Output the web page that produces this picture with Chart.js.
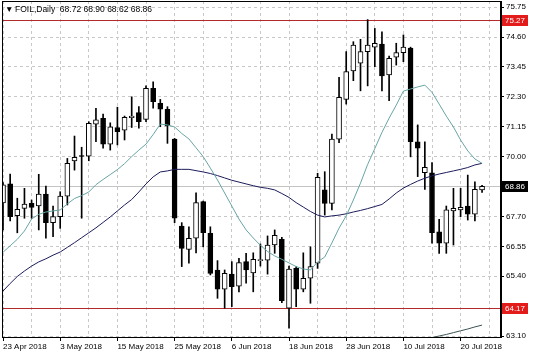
<!DOCTYPE html>
<html>
<head>
<meta charset="utf-8">
<script src="https://cdn.jsdelivr.net/npm/chart.js"></script>
<style>
  body { margin: 0; background: #fff; }
  canvas { display: block; }
</style>
</head>
<body>
<canvas id="graficoFoil" width="536" height="357"></canvas>
<script>
const dates = [
  "23 Apr 2018", "24 Apr 2018", "25 Apr 2018", "26 Apr 2018", "27 Apr 2018", "30 Apr 2018",
  "1 May 2018", "2 May 2018", "3 May 2018", "4 May 2018", "7 May 2018", "8 May 2018",
  "9 May 2018", "10 May 2018", "11 May 2018", "14 May 2018", "15 May 2018", "16 May 2018",
  "17 May 2018", "18 May 2018", "21 May 2018", "22 May 2018", "23 May 2018", "24 May 2018",
  "25 May 2018", "28 May 2018", "29 May 2018", "30 May 2018", "31 May 2018", "1 Jun 2018",
  "4 Jun 2018", "5 Jun 2018", "6 Jun 2018", "7 Jun 2018", "8 Jun 2018", "11 Jun 2018",
  "12 Jun 2018", "13 Jun 2018", "14 Jun 2018", "15 Jun 2018", "18 Jun 2018", "19 Jun 2018",
  "20 Jun 2018", "21 Jun 2018", "22 Jun 2018", "25 Jun 2018", "26 Jun 2018", "27 Jun 2018",
  "28 Jun 2018", "29 Jun 2018", "2 Jul 2018", "3 Jul 2018", "4 Jul 2018", "5 Jul 2018",
  "6 Jul 2018", "9 Jul 2018", "10 Jul 2018", "11 Jul 2018", "12 Jul 2018", "13 Jul 2018",
  "16 Jul 2018", "17 Jul 2018", "18 Jul 2018", "19 Jul 2018", "20 Jul 2018", "23 Jul 2018",
  "24 Jul 2018", "25 Jul 2018"
];

const open = [
  68.22, 68.95, 67.73, 68.01, 68.20, 68.10, 68.56, 67.46, 67.69, 68.48,
  69.83, 70.04, 70.02, 71.25, 71.47, 70.48, 71.12, 71.02, 71.50, 71.69,
  71.43, 72.63, 72.05, 71.82, 70.67, 67.33, 66.43, 66.86, 68.27, 67.05,
  65.64, 64.90, 65.48, 65.02, 65.96, 65.53, 66.00, 66.02, 66.60, 66.82,
  64.17, 65.70, 64.90, 65.32, 65.90, 68.72, 68.20, 70.67, 72.20, 73.30,
  73.59, 74.04, 74.21, 74.33, 73.14, 73.82, 74.00, 74.17, 70.57, 69.38,
  69.38, 67.11, 66.67, 67.91, 67.95, 68.10, 67.79, 68.72
];
const high = [
  69.00, 69.33, 68.40, 68.78, 68.33, 69.32, 68.87, 68.10, 68.65, 69.93,
  70.79, 70.36, 71.34, 71.86, 71.64, 71.30, 71.90, 71.56, 72.30, 71.92,
  72.72, 72.88, 72.20, 71.92, 70.70, 67.46, 67.30, 68.61, 68.29, 67.30,
  66.00, 65.64, 65.96, 66.09, 66.28, 66.30, 66.64, 66.95, 67.18, 66.90,
  65.79, 65.77, 66.30, 66.53, 69.36, 69.42, 70.87, 73.05, 74.04, 74.42,
  74.51, 75.27, 74.93, 74.80, 73.87, 74.36, 74.68, 74.21, 71.22, 70.57,
  69.77, 67.59, 68.10, 68.78, 68.78, 69.29, 69.03, 68.90
];
const low = [
  67.18, 67.53, 67.07, 67.63, 67.63, 67.18, 66.86, 66.92, 67.24, 68.14,
  69.48, 67.63, 69.84, 70.57, 70.32, 70.25, 70.45, 70.64, 71.12, 71.09,
  71.34, 71.86, 71.15, 70.51, 67.46, 65.77, 65.90, 66.30, 66.53, 65.45,
  64.55, 64.17, 64.23, 64.80, 65.13, 64.80, 65.79, 65.48, 66.28, 64.38,
  63.40, 64.23, 64.80, 64.36, 65.70, 67.75, 67.95, 70.54, 72.02, 72.92,
  72.53, 72.72, 73.46, 72.53, 72.15, 73.52, 73.65, 69.99, 69.23, 68.74,
  66.67, 66.28, 66.28, 66.60, 67.69, 67.56, 67.53, 68.62
];
const close = [
  68.91, 67.69, 67.97, 68.17, 68.05, 68.56, 67.46, 67.69, 68.48, 69.74,
  69.97, 70.01, 71.28, 71.41, 70.48, 71.15, 70.96, 71.51, 71.56, 71.34,
  72.63, 72.11, 71.82, 71.18, 67.63, 66.47, 66.86, 68.23, 67.07, 65.51,
  64.90, 65.51, 65.00, 65.92, 65.64, 66.05, 66.04, 66.60, 66.97, 64.46,
  65.67, 64.90, 65.32, 65.77, 69.20, 68.20, 70.67, 72.28, 73.27, 74.29,
  74.04, 74.29, 74.36, 73.10, 73.78, 74.00, 74.21, 70.57, 70.32, 69.59,
  67.07, 66.67, 67.95, 68.01, 68.05, 67.79, 68.74, 68.86
];

const maFast = [
  66.32, 66.57, 66.82, 67.14, 67.60, 67.78, 67.87, 67.91, 67.95, 68.18,
  68.39, 68.50, 68.64, 68.92, 69.12, 69.31, 69.50, 69.73, 70.00, 70.25,
  70.48, 70.85, 71.25, 71.22, 71.14, 70.89, 70.68, 70.34, 70.00, 69.56,
  69.10, 68.60, 68.10, 67.60, 67.18, 66.87, 66.59, 66.35, 66.18, 66.05,
  65.91, 65.77, 65.68, 65.64, 65.95, 66.14, 66.68, 67.25, 67.72, 68.33,
  68.98, 69.70, 70.31, 70.93, 71.48, 71.98, 72.52, 72.60, 72.68, 72.75,
  72.47, 72.02, 71.56, 71.14, 70.64, 70.22, 69.91, 69.74
];
const maSlow = [
  64.83, 65.12, 65.39, 65.60, 65.79, 65.95, 66.07, 66.21, 66.33, 66.51,
  66.69, 66.88, 67.07, 67.26, 67.47, 67.68, 67.91, 68.14, 68.35, 68.64,
  68.95, 69.22, 69.41, 69.45, 69.51, 69.51, 69.51, 69.46, 69.41, 69.35,
  69.27, 69.18, 69.09, 69.02, 68.95, 68.88, 68.82, 68.78, 68.72, 68.58,
  68.43, 68.23, 68.06, 67.89, 67.75, 67.68, 67.72, 67.75, 67.80, 67.87,
  67.93, 68.00, 68.08, 68.16, 68.37, 68.60, 68.79, 68.93, 69.06, 69.17,
  69.26, 69.33, 69.39, 69.45, 69.51, 69.58, 69.68, 69.74
];
// the long average only reaches the window at the far right
const maLongStart = 59;
const maLong = [62.98, 63.04, 63.10, 63.16, 63.23, 63.30, 63.37, 63.45, 63.52];

const yTicks = [63.10, 64.25, 65.40, 66.55, 67.70, 68.85, 70.00, 71.15, 72.30, 73.45, 74.60, 75.75];
const levels = [75.27, 64.17];
const lastPrice = 68.86;
const header = "FOIL,Daily  68.72 68.90 68.62 68.86";

function coberto(v) {
  return levels.concat([lastPrice]).some(function (p) { return Math.abs(p - v) < 0.3; });
}

function caixaPreco(ctx, area, y, valor, cor) {
  const py = y.getPixelForValue(valor);
  ctx.fillStyle = cor;
  ctx.fillRect(area.right + 1, Math.round(py) - 5, 26, 11);
  ctx.fillStyle = "#fff";
  ctx.textBaseline = "middle";
  ctx.textAlign = "left";
  ctx.fillText(valor.toFixed(2), area.right + 4, Math.round(py) + 0.5);
}

const overlay = {
  id: "overlay",
  beforeDatasetsDraw(chart) {
    const { ctx, chartArea: a, scales: { y } } = chart;
    ctx.save();
    ctx.lineWidth = 1;
    let py = Math.round(y.getPixelForValue(lastPrice)) + 0.5;
    ctx.strokeStyle = "#c4c4c4";
    ctx.beginPath(); ctx.moveTo(a.left, py); ctx.lineTo(a.right, py); ctx.stroke();
    ctx.strokeStyle = "#b22a2a";
    levels.forEach(function (v) {
      py = Math.round(y.getPixelForValue(v)) + 0.5;
      ctx.beginPath(); ctx.moveTo(a.left, py); ctx.lineTo(a.right, py); ctx.stroke();
    });
    ctx.restore();
  },
  afterDraw(chart) {
    const { ctx, chartArea: a, scales: { y } } = chart;
    ctx.save();
    ctx.strokeStyle = "#000";
    ctx.lineWidth = 1;
    ctx.strokeRect(a.left + 0.5, a.top + 0.5, a.right - a.left - 1, a.bottom - a.top);
    ctx.font = "8px 'Liberation Sans', Arial, sans-serif";
    levels.forEach(function (v) { caixaPreco(ctx, a, y, v, "#e41b1b"); });
    caixaPreco(ctx, a, y, lastPrice, "#000");
    ctx.fillStyle = "#000";
    ctx.textBaseline = "middle";
    ctx.font = "8.5px 'Liberation Sans', Arial, sans-serif";
    ctx.fillText("\u25BC", a.left + 3, a.top + 8.5);
    ctx.fillText(header, a.left + 13, a.top + 8.5);
    ctx.restore();
  }
};

Chart.defaults.font.family = "'Liberation Sans', Arial, sans-serif";
Chart.defaults.font.size = 8;
Chart.defaults.color = "#000";

const ctx = document.getElementById("graficoFoil").getContext("2d");

const grafico = new Chart(ctx, {
  type: "bar",
  data: {
    datasets: [
      {
        type: "line",
        label: "MA rápida",
        data: maFast.map(function (v, i) { return { x: i, y: v }; }),
        borderColor: "#68a4a4",
        borderWidth: 1,
        pointRadius: 0,
        order: 0,
      },
      {
        type: "line",
        label: "MA lenta",
        data: maSlow.map(function (v, i) { return { x: i, y: v }; }),
        borderColor: "#1c1c5c",
        borderWidth: 1,
        pointRadius: 0,
        order: 0,
      },
      {
        type: "line",
        label: "MA longa",
        data: maLong.map(function (v, k) { return { x: maLongStart + k, y: v }; }),
        borderColor: "#3b5252",
        borderWidth: 1,
        pointRadius: 0,
        order: 0,
      },
      {
        label: "Corpo",
        data: open.map(function (o, i) { return { x: i, y: [o, close[i]] }; }),
        backgroundColor: open.map(function (o, i) { return close[i] >= o ? "#fff" : "#000"; }),
        borderColor: "#000",
        borderWidth: 1,
        borderSkipped: false,
        barThickness: 5,
        grouped: false,
        order: 1,
      },
      {
        label: "Pavio",
        data: low.map(function (l, i) { return { x: i, y: [l, high[i]] }; }),
        backgroundColor: "#000",
        borderWidth: 0,
        barThickness: 1,
        grouped: false,
        order: 2,
      },
    ],
  },
  options: {
    responsive: false,
    animation: false,
    layout: { padding: { left: 2, top: 1, right: 0, bottom: 0 } },
    plugins: { legend: { display: false }, tooltip: { enabled: false } },
    scales: {
      x: {
        type: "linear",
        min: -0.14,
        max: 69.65,
        bounds: "data",
        offset: false,
        grid: {
          offset: false,
          color: function (c) { return c.tick && c.tick.value % 4 === 0 ? "#c8c8c8" : "transparent"; },
          tickColor: function (c) { return c.tick && c.tick.value % 8 === 0 ? "#000" : "transparent"; },
          tickLength: 4,
        },
        border: { display: true, color: "#000", dash: [3, 3] },
        ticks: {
          autoSkip: false,
          maxRotation: 0,
          minRotation: 0,
          align: "start",
          padding: 1,
          callback: function (v) { return v % 8 === 0 ? dates[v] : ""; },
        },
        afterBuildTicks: function (s) {
          const t = [];
          for (let i = 0; i <= s.max; i += 4) t.push({ value: i });
          s.ticks = t;
        },
        afterFit: function (s) { s.height = 20; s.paddingLeft = 0; s.paddingRight = 0; },
      },
      y: {
        position: "right",
        min: 63.062,
        max: 75.985,
        bounds: "data",
        grid: {
          color: function (c) { return c.tick && coberto(c.tick.value) ? "transparent" : "#c8c8c8"; },
          tickColor: "#000",
          tickLength: 3,
        },
        border: { display: true, color: "#000", dash: [3, 3] },
        ticks: {
          padding: 2,
          callback: function (v) { return coberto(v) ? "" : v.toFixed(2); },
        },
        afterBuildTicks: function (s) {
          s.ticks = yTicks.map(function (v) { return { value: v }; });
        },
        afterFit: function (s) { s.width = 35; s.paddingTop = 0; s.paddingBottom = 0; },
      },
    },
  },
  plugins: [overlay],
});
</script>
</body>
</html>
